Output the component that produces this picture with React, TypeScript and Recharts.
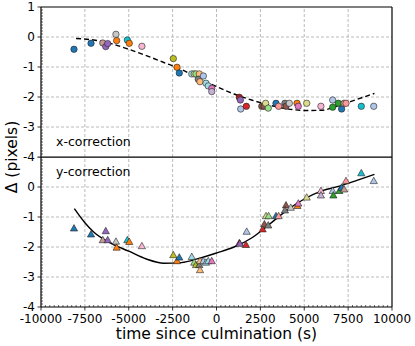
import { ComposedChart, Line, ReferenceLine, Scatter, XAxis, YAxis } from "recharts";

const font = "DejaVu Sans, sans-serif";

const xTicksMajor = [-10000, -7500, -5000, -2500, 0, 2500, 5000, 7500, 10000];
const yTicksTop = [1, 0, -1, -2, -3, -4];
const yTicksBottom = [0, -1, -2, -3, -4];
const xTicksAll = Array.from({ length: 81 }, (_, i) => -10000 + i * 250);
const yTicksAll = Array.from({ length: 51 }, (_, i) => Math.round((-4 + i * 0.1) * 10) / 10);

// tab20 colours
const C = {
  blue: "#1f77b4", lblue: "#aec7e8", orange: "#ff7f0e", peach: "#ffbb78",
  green: "#2ca02c", lgreen: "#98df8a", red: "#d62728", dred: "#a8201f",
  salmon: "#ff9896", purple: "#9467bd", lav: "#c5b0d5", brown: "#8c564b",
  rbrown: "#c49c94", pink: "#e377c2", lpink: "#f7b6d2", gray: "#7f7f7f",
  lgray: "#c7c7c7", olive: "#bcbd22", khaki: "#dbdb8d", cyan: "#17becf", lcyan: "#9edae5"
};

// [time (s), delta (px), colour]
const xCorrection: [number, number, string][] = [
  [-8120, -0.41, C.blue], [-7150, -0.21, C.blue], [-6480, -0.2, C.rbrown], [-6310, -0.32, C.purple],
  [-6200, -0.22, C.purple], [-5730, 0.09, C.lgray], [-5690, -0.12, C.orange], [-5080, -0.1, C.cyan],
  [-4970, -0.21, C.orange], [-4250, -0.31, C.lpink], [-2460, -0.72, C.olive], [-2250, -1.01, C.orange],
  [-2120, -1.2, C.blue], [-1410, -1.23, C.lcyan], [-1270, -1.23, C.khaki], [-1170, -1.23, C.lgreen],
  [-980, -1.23, C.peach], [-1040, -1.41, C.gray], [-940, -1.49, C.peach], [-750, -1.3, C.lblue],
  [-600, -1.54, C.lcyan], [-470, -1.63, C.lcyan], [-270, -1.71, C.pink], [-270, -1.82, C.lav],
  [1300, -2.01, C.dred], [1360, -2.1, C.purple], [1380, -2.4, C.lblue], [1700, -2.31, C.red],
  [2580, -2.31, C.brown], [2710, -2.31, C.brown], [2800, -2.21, C.khaki], [2950, -2.37, C.lgreen],
  [3390, -2.21, C.blue], [3540, -2.31, C.salmon], [3900, -2.21, C.gray], [3960, -2.31, C.brown],
  [4150, -2.21, C.lgray], [4590, -2.21, C.orange], [4660, -2.31, C.pink], [5140, -2.21, C.khaki],
  [5950, -2.31, C.lpink], [6620, -2.1, C.lblue], [6620, -2.34, C.green], [6940, -2.21, C.green],
  [7130, -2.4, C.blue], [7270, -2.21, C.rbrown], [7380, -2.21, C.salmon], [8250, -2.31, C.cyan],
  [8960, -2.31, C.lblue]
];

const yCorrection: [number, number, string][] = [
  [-8120, -1.38, C.blue], [-7150, -1.58, C.blue], [-6480, -1.77, C.rbrown], [-6310, -1.47, C.purple],
  [-6200, -1.77, C.purple], [-5730, -1.82, C.lgray], [-5690, -2.02, C.orange], [-5080, -1.77, C.cyan],
  [-4970, -1.83, C.orange], [-4250, -1.97, C.lpink], [-2460, -2.27, C.olive], [-2250, -2.47, C.orange],
  [-2120, -2.35, C.blue], [-1410, -2.33, C.lcyan], [-1270, -2.52, C.lgreen], [-1170, -2.6, C.olive],
  [-980, -2.6, C.gray], [-940, -2.47, C.peach], [-940, -2.77, C.peach], [-750, -2.47, C.lblue],
  [-600, -2.52, C.lcyan], [-470, -2.47, C.lcyan], [-270, -2.47, C.pink], [1300, -1.87, C.dred],
  [1330, -1.89, C.purple], [1680, -1.93, C.red], [1720, -1.49, C.lblue], [2630, -1.41, C.red],
  [2730, -1.24, C.brown], [2950, -1.28, C.gray], [2820, -0.97, C.khaki], [2970, -0.97, C.lgreen],
  [3390, -0.97, C.blue], [3540, -0.97, C.salmon], [3960, -0.61, C.brown], [3900, -0.78, C.gray],
  [4230, -0.69, C.lgray], [4610, -0.63, C.orange], [4660, -0.55, C.pink], [5140, -0.35, C.khaki],
  [5950, -0.13, C.lpink], [5950, -0.28, C.lav], [6620, -0.13, C.lblue], [6660, -0.28, C.green],
  [7000, -0.13, C.green], [7130, -0.02, C.blue], [7270, -0.08, C.rbrown], [7380, 0.2, C.salmon],
  [8250, 0.46, C.cyan], [8960, 0.2, C.lblue]
];

// fitted model curves
const xFitT = [-8000, -7000, -6000, -5000, -4000, -3000, -2000, -1000, 0, 1000, 2000, 3000, 4000, 5000, 6000, 7000, 8000, 9000];
const xFitD = [-0.05, -0.1, -0.22, -0.41, -0.62, -0.85, -1.08, -1.38, -1.65, -1.9, -2.1, -2.27, -2.39, -2.45, -2.44, -2.28, -2.08, -1.88];
const yFitT = [-8100, -7500, -7000, -6000, -5000, -4000, -3000, -2000, -1000, 0, 1000, 2000, 3000, 4000, 5000, 6000, 7000, 8000, 9000];
const yFitD = [-0.72, -1.19, -1.5, -1.88, -2.14, -2.4, -2.54, -2.52, -2.38, -2.2, -2.0, -1.7, -1.25, -0.78, -0.4, -0.13, 0.03, 0.22, 0.42];

const toPts = (rows: [number, number, string][]) => rows.map(([t, d, c]) => ({ t, d, c }));
const toCurve = (ts: number[], ds: number[]) => ts.map((t, i) => ({ t, d: ds[i] }));

const XTick = ({ x, y, payload }: any) => {
  const v = payload.value;
  const major = xTicksMajor.includes(v);
  return (
    <g>
      {major ? (
        <line x1={x} x2={x} y1={y} y2={y + 3.5} stroke="#000" strokeWidth={0.8} />
      ) : (
        <line x1={x} x2={x} y1={y} y2={y - 2} stroke="#000" strokeWidth={0.6} />
      )}
      {major && (
        <text x={x} y={y + 16} textAnchor="middle" fontSize={12} fontFamily={font} fill="#000">
          {v}
        </text>
      )}
    </g>
  );
};

const makeYTick = (labels: number[]) => ({ x, y, payload }: any) => {
  const v = payload.value;
  const major = Number.isInteger(v);
  return (
    <g>
      {major ? (
        <line x1={x - 3.5} x2={x} y1={y} y2={y} stroke="#000" strokeWidth={0.8} />
      ) : (
        <line x1={x} x2={x + 2} y1={y} y2={y} stroke="#000" strokeWidth={0.6} />
      )}
      {labels.includes(v) && (
        <text x={x - 6} y={y + 4.3} textAnchor="end" fontSize={12} fontFamily={font} fill="#000">
          {v}
        </text>
      )}
    </g>
  );
};

const Dot = (p: any) => (
  <circle cx={p.cx} cy={p.cy} r={3.2} fill={p.payload?.c ?? p.c} stroke="#222" strokeWidth={0.6} />
);

const Tri = (p: any) => {
  const { cx, cy } = p;
  return (
    <path
      d={`M${cx},${cy - 3.8} L${cx + 3.6},${cy + 2.6} L${cx - 3.6},${cy + 2.6} Z`}
      fill={p.payload?.c ?? p.c}
      stroke="#222"
      strokeWidth={0.6}
    />
  );
};

const gridX = xTicksMajor.slice(1, -1);
const gridY = [0, -1, -2, -3];

function Panel({ points, curve, dashed, yLabels, bottom }: any) {
  return (
    <ComposedChart
      width={415}
      height={bottom ? 189 : 166}
      margin={{ top: bottom ? 0 : 7, right: 23, bottom: bottom ? 0 : 9, left: 0 }}
      style={{ overflow: "visible" }}
    >
      <XAxis
        type="number"
        dataKey="t"
        domain={[-10000, 10000]}
        ticks={xTicksAll}
        interval={0}
        tickSize={0}
        tickMargin={0}
        tick={<XTick />}
        axisLine={{ stroke: "#000", strokeWidth: 1.2 }}
        height={39}
        hide={!bottom}
        allowDataOverflow
      />
      <YAxis
        type="number"
        dataKey="d"
        domain={[-4, 1]}
        ticks={yTicksAll}
        interval={0}
        tickSize={0}
        tickMargin={0}
        tick={makeYTick(yLabels)}
        axisLine={{ stroke: "#000", strokeWidth: 1.2 }}
        width={41}
        allowDataOverflow
      />
      {gridX.map((v) => (
        <ReferenceLine key={"gx" + v} x={v} stroke="#a8a8a8" strokeWidth={0.8} strokeDasharray="3 2" />
      ))}
      {gridY.map((v) => (
        <ReferenceLine key={"gy" + v} y={v} stroke="#a8a8a8" strokeWidth={0.8} strokeDasharray="3 2" />
      ))}
      <Line
        data={curve}
        dataKey="d"
        type="monotone"
        dot={false}
        stroke="#000"
        strokeWidth={1.4}
        strokeDasharray={dashed ? "5 3" : undefined}
        isAnimationActive={false}
      />
      <Scatter data={points} dataKey="d" shape={bottom ? Tri : Dot} isAnimationActive={false} />
      <ReferenceLine y={1} stroke="#000" strokeWidth={1.2} />
      <ReferenceLine x={10000} stroke="#000" strokeWidth={1.2} />
      {!bottom && <ReferenceLine y={-4} stroke="#000" strokeWidth={1.2} />}
    </ComposedChart>
  );
}

export default function App() {
  return (
    <div style={{ position: "absolute", left: 0, top: 0, width: 415, height: 346, background: "#fff" }}>
      <div style={{ position: "absolute", left: 0, top: 157 }}>
        <Panel points={toPts(yCorrection)} curve={toCurve(yFitT, yFitD)} yLabels={yTicksBottom} bottom />
      </div>
      <div style={{ position: "absolute", left: 0, top: 0 }}>
        <Panel points={toPts(xCorrection)} curve={toCurve(xFitT, xFitD)} dashed yLabels={yTicksTop} />
      </div>
      <svg width={415} height={346} style={{ position: "absolute", left: 0, top: 0, pointerEvents: "none" }}>
        <text x={56} y={146} fontSize={12.5} fontFamily={font} fill="#000">x-correction</text>
        <text x={56} y={176} fontSize={12.5} fontFamily={font} fill="#000">y-correction</text>
        <text x={216.5} y={339} textAnchor="middle" fontSize={15.5} fontFamily={font} fill="#000">
          time since culmination (s)
        </text>
        <text
          x={12}
          y={157}
          textAnchor="middle"
          dominantBaseline="central"
          transform="rotate(-90 12 157)"
          fontSize={15.5}
          fontFamily={font}
          fill="#000"
        >
          Δ (pixels)
        </text>
      </svg>
    </div>
  );
}
